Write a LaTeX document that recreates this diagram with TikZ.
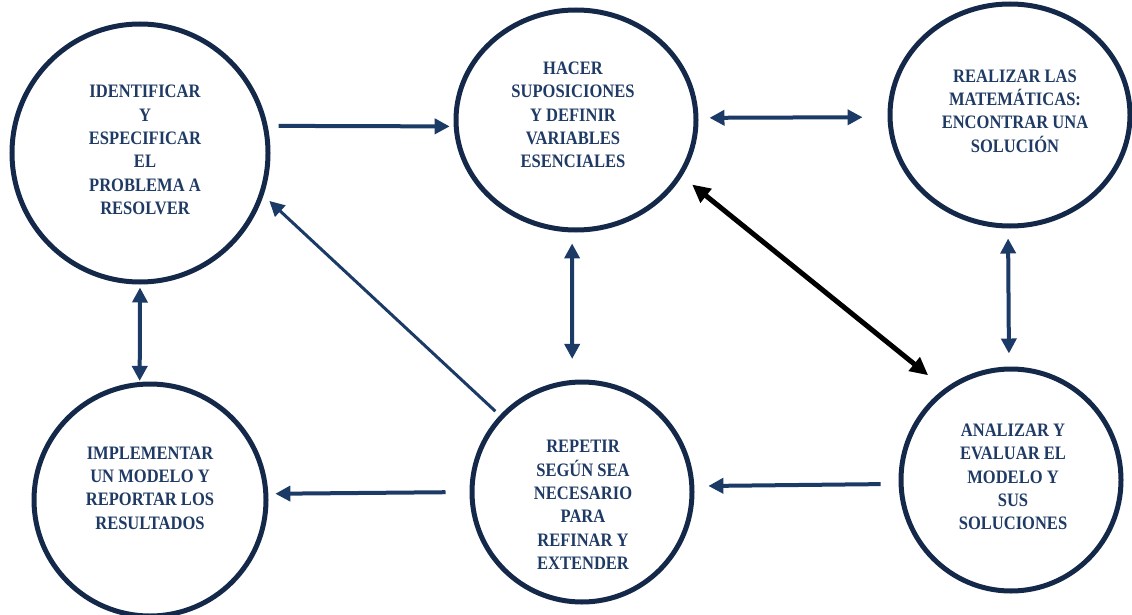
\documentclass[tikz,border=0pt]{standalone}
\usepackage{fontspec}
\setmainfont{Liberation Serif}[FakeStretch=0.87]
\usetikzlibrary{arrows.meta,shapes.geometric}
\definecolor{ringblue}{HTML}{14294A}
\definecolor{arrowblue}{HTML}{1B3A66}
\definecolor{textblue}{HTML}{1F3A64}
\tikzset{
  ring/.style={ellipse, draw=ringblue, line width=5pt, inner sep=0pt},
  lbl/.style={align=center, text=textblue, inner sep=0pt,
    font=\bfseries\fontsize{19}{23.4}\selectfont},
  link/.style={arrowblue, line width=4pt, -{Triangle[length=15pt,width=15pt]}},
  twoway/.style={arrowblue, line width=4pt,
    {Triangle[length=15pt,width=15pt]}-{Triangle[length=15pt,width=15pt]}},
  bigtwoway/.style={black, line width=5pt,
    {Triangle[length=18pt,width=17pt]}-{Triangle[length=18pt,width=17pt]}}
}
\begin{document}
\begin{tikzpicture}[x=1pt,y=-1pt]
\useasboundingbox (0,0) rectangle (1132,615);
% circles
\node[ring, minimum width=256pt, minimum height=258pt] (circ0) at (140,153){};
\node[ring, minimum width=240pt, minimum height=220pt] (circ1) at (576,120){};
\node[ring, minimum width=240pt, minimum height=222pt] (circ2) at (1010,115){};
\node[ring, minimum width=232pt, minimum height=232pt] (circ3) at (150,500){};
\node[ring, minimum width=220pt, minimum height=220pt] (circ4) at (582,492){};
\node[ring, minimum width=220pt, minimum height=222pt] (circ5) at (1011,480){};
% texts
\node[lbl] (txt0) at (145,150){IDENTIFICAR\\Y\\ESPECIFICAR\\EL\\PROBLEMA A\\RESOLVER};
\node[lbl] (txt1) at (573,115){HACER\\SUPOSICIONES\\Y DEFINIR\\VARIABLES\\ESENCIALES};
\node[lbl] (txt2) at (1015,111){REALIZAR LAS\\MATEMÁTICAS:\\ENCONTRAR UNA\\SOLUCIÓN};
\node[lbl] (txt3) at (150,488){IMPLEMENTAR\\UN MODELO Y\\REPORTAR LOS\\RESULTADOS};
\node[lbl] (txt4) at (583,505){REPETIR\\SEGÚN SEA\\NECESARIO\\PARA\\REFINAR Y\\EXTENDER};
\node[lbl] (txt5) at (1013,477){ANALIZAR Y\\EVALUAR EL\\MODELO Y\\SUS\\SOLUCIONES};
% arrows
\draw[link, shorten <=11pt, shorten >=4pt] (circ0.12) -- (circ1.183);
\draw[twoway, shorten <=11pt, shorten >=25pt] (circ1.1) -- (circ2.181);
\draw[twoway, shorten <=10pt, shorten >=13pt] (circ2.269) -- (circ5.91.5);
\draw[twoway, shorten <=11pt, shorten >=21pt] (circ1.268) -- (circ4.95);
\draw[bigtwoway, shorten <=13pt, shorten >=21pt] (circ1.-28) -- (circ5.126);
\draw[link, line width=3pt, shorten <=6pt, shorten >=8pt] (circ4.137) -- (circ0.-19);
\draw[twoway, shorten <=3pt, shorten >=1pt] (circ0.270) -- (circ3.95);
\draw[link, shorten <=24pt, shorten >=7pt] (circ4.180) -- (circ3.3);
\draw[link, shorten <=18pt, shorten >=14pt] (circ5.182) -- (circ4.3);
\end{tikzpicture}
\end{document}
